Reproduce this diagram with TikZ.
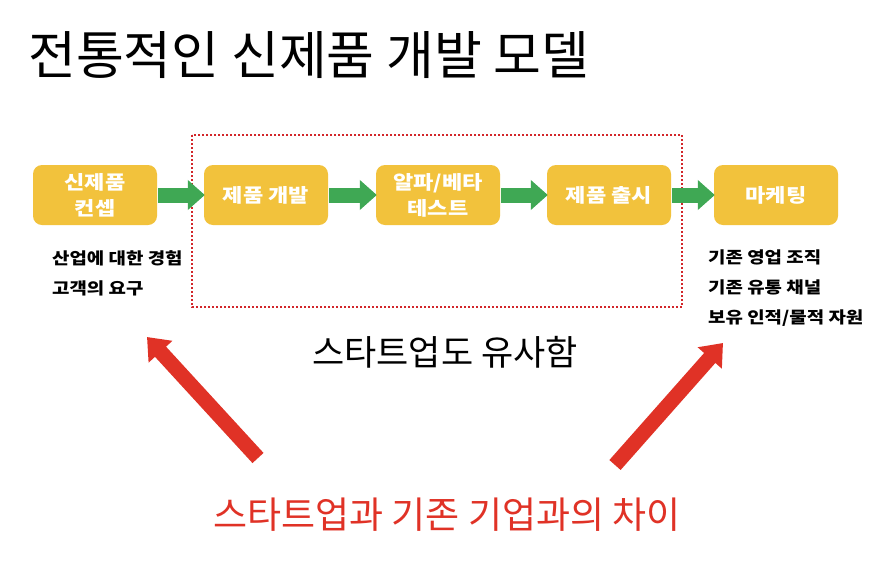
\documentclass[tikz,border=0pt]{standalone}
\usepackage{fontspec}
\setmainfont{Noto Sans CJK KR}
\newfontfamily\widefont[FakeStretch=1.16]{Noto Sans CJK KR}
\usetikzlibrary{arrows.meta}
\definecolor{boxgold}{HTML}{F2C23C}
\definecolor{flowgreen}{HTML}{3FA854}
\definecolor{hintred}{HTML}{E03226}
\definecolor{dotred}{HTML}{D2262A}
\tikzset{
  stagebox/.style={fill=boxgold, rounded corners=9pt, minimum width=124pt, minimum height=60pt,
    text=white, font=\widefont\fontsize{19}{26}\selectfont\bfseries, align=center, inner sep=0pt},
  flowarrow/.style={draw=flowgreen, line width=15pt, -{Triangle[width=29pt,length=17pt]}, shorten <=1pt, shorten >=-1pt},
  bigarrow/.style={draw=hintred, line width=15pt, -{Triangle[width=31pt,length=20pt]}},
  note/.style={font=\widefont\fontsize{16.3}{20}\selectfont\bfseries, anchor=west, inner sep=0pt}
}
\begin{document}
\begin{tikzpicture}[x=1pt,y=-1pt]
\useasboundingbox[fill=white] (0,0) rectangle (886,576);
\node[font=\fontsize{52}{58}\selectfont, anchor=west, inner sep=0pt] (title) at (28,55) {전통적인 신제품 개발 모델};
\draw[dotred, line width=2pt, dotted] (192,135) rectangle (682,307);
\node[stagebox] (s1) at (95,195) {신제품\\컨셉};
\node[stagebox] (s2) at (266,195) {제품 개발};
\node[stagebox] (s3) at (438,195) {알파/베타\\테스트};
\node[stagebox] (s4) at (609,195) {제품 출시};
\node[stagebox] (s5) at (776,195) {마케팅};
\draw[flowarrow] (s1.east) -- (s2.west);
\draw[flowarrow] (s2.east) -- (s3.west);
\draw[flowarrow] (s3.east) -- (s4.west);
\draw[flowarrow] (s4.east) -- (s5.west);
\node[note] (l1) at (52,258) {산업에 대한 경험};
\node[note] (l2) at (52,288) {고객의 요구};
\node[note] (r1) at (708,257) {기존 영업 조직};
\node[note] (r2) at (708,287) {기존 유통 채널};
\node[note] (r3) at (708,318) {보유 인적/물적 자원};
\node[font=\fontsize{35}{40}\selectfont, inner sep=0pt] (similar) at (445,352) {스타트업도 유사함};
\node[font=\fontsize{37}{42}\selectfont, text=hintred, inner sep=0pt] (diff) at (447,515) {스타트업과 기존 기업과의 차이};
\coordinate (lt) at (258,458);
\coordinate (lh) at (147,337);
\coordinate (rt) at (615,465);
\coordinate (rh) at (723,343);
\draw[bigarrow] (lt) -- (lh);
\draw[bigarrow] (rt) -- (rh);
\end{tikzpicture}
\end{document}
